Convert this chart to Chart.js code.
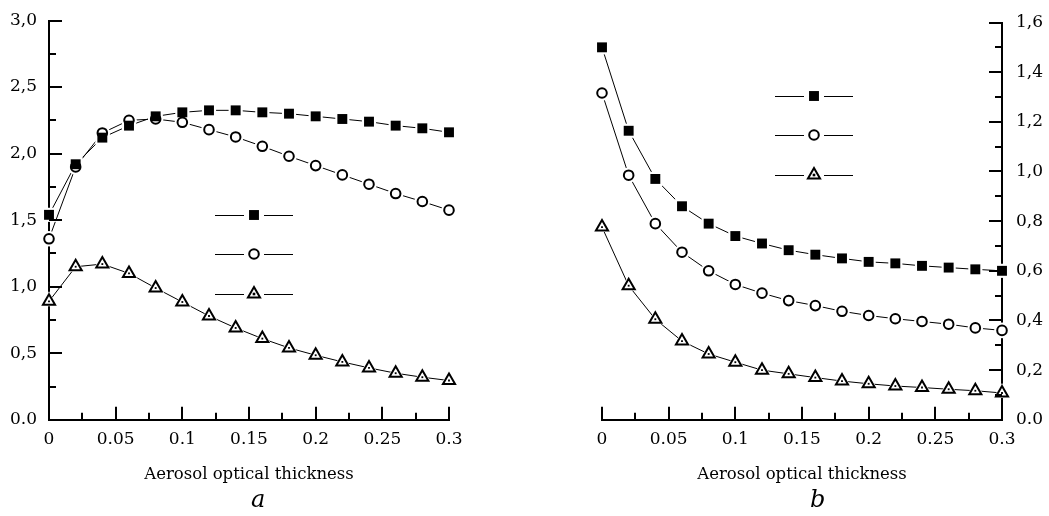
<!DOCTYPE html>
<html>
<head>
<meta charset="utf-8">
<script src="https://cdn.jsdelivr.net/npm/chart.js@4.4.0/dist/chart.umd.min.js"></script>
<style>
  body { margin: 0; background: #fff; width: 1049px; height: 516px; position: relative; overflow: hidden; font-family: 'Liberation Serif', serif; }
  .panel { position: absolute; top: 0; height: 516px; }
  #wrapA { left: 0; width: 525px; }
  #wrapB { left: 525px; width: 524px; }
  .letter { position: absolute; top: 484px; font-style: italic; font-size: 24px; line-height: 30px; font-family: 'DejaVu Serif', serif; }
</style>
</head>
<body>
<div class="panel" id="wrapA"><canvas id="chartA"></canvas></div>
<div class="panel" id="wrapB"><canvas id="chartB"></canvas></div>
<div class="letter" style="left:251px">a</div>
<div class="letter" style="left:810px">b</div>
<script>
// aerosol optical thickness (x)
const aot = [0, 0.02, 0.04, 0.06, 0.08, 0.1, 0.12, 0.14, 0.16, 0.18, 0.2, 0.22, 0.24, 0.26, 0.28, 0.3];

// panel a
const aSquares = [1.54, 1.92, 2.12, 2.21, 2.28, 2.31, 2.325, 2.325, 2.31, 2.30, 2.28, 2.26, 2.24, 2.21, 2.19, 2.16];
const aCircles = [1.36, 1.90, 2.155, 2.25, 2.26, 2.235, 2.18, 2.125, 2.055, 1.98, 1.91, 1.84, 1.77, 1.70, 1.64, 1.575];
const aTriangles = [0.89, 1.15, 1.17, 1.10, 0.99, 0.885, 0.78, 0.69, 0.61, 0.54, 0.485, 0.435, 0.39, 0.35, 0.32, 0.295];

// panel b
const bSquares = [1.50, 1.164, 0.97, 0.86, 0.79, 0.74, 0.71, 0.683, 0.665, 0.65, 0.636, 0.63, 0.62, 0.613, 0.606, 0.60];
const bCircles = [1.316, 0.985, 0.79, 0.675, 0.60, 0.545, 0.51, 0.48, 0.46, 0.437, 0.42, 0.407, 0.396, 0.385, 0.37, 0.36];
const bTriangles = [0.776, 0.54, 0.405, 0.317, 0.265, 0.232, 0.20, 0.185, 0.17, 0.156, 0.145, 0.136, 0.13, 0.123, 0.117, 0.108];

const xTitle = 'Aerosol optical thickness';
const tickFont = { family: "'DejaVu Serif', serif", size: 17 };
const yTickFont = { family: "'DejaVu Serif', serif", size: 17, lineHeight: 1 };
const titleFont = { family: "'DejaVu Serif', serif", size: 16.5 };

const markerStyles = [
  { pointStyle: 'rect', radius: 7, fill: '#000', border: 0 },
  { pointStyle: 'circle', radius: 4.8, fill: '#fff', border: 2 },
  { pointStyle: 'triangle', radius: 7, fill: '#fff', border: 2 }
];

function toPoints(values) {
  return values.map((v, i) => ({ x: aot[i], y: v }));
}

function buildDatasets(seriesList) {
  const sets = [];
  seriesList.forEach((values, i) => {
    const m = markerStyles[i];
    const pts = toPoints(values);
    // connecting line
    sets.push({ data: pts, showLine: true, borderColor: '#000', borderWidth: 1, pointRadius: 0, tension: 0, clip: false, order: 4 });
    // white halo so the line stops short of the marker
    sets.push({ data: pts, showLine: false, pointStyle: m.pointStyle, pointRadius: m.radius + 3,
      pointBackgroundColor: '#fff', pointBorderColor: '#fff', pointBorderWidth: 0, clip: false, order: 3 });
    // marker
    sets.push({ data: pts, showLine: false, pointStyle: m.pointStyle, pointRadius: m.radius,
      pointBackgroundColor: m.fill, pointBorderColor: '#000', pointBorderWidth: m.border, clip: false, order: 2 });
    if (m.pointStyle === 'triangle') {
      sets.push({ data: pts, showLine: false, pointStyle: 'rect', pointRadius: 1.3,
        pointBackgroundColor: '#000', pointBorderWidth: 0, clip: false, order: 1 });
    }
  });
  return sets;
}

// short tick marks pointing into the plot
const inwardTicks = {
  id: 'inwardTicks',
  afterDraw(chart, args, opts) {
    const ctx = chart.ctx;
    const xs = chart.scales.x, ys = chart.scales.y;
    ctx.save();
    ctx.strokeStyle = '#000';
    ctx.lineWidth = 2;
    ctx.beginPath();
    xs.ticks.forEach(t => {
      const px = Math.round(xs.getPixelForValue(t.value));
      const len = t.label ? 13 : 7;
      ctx.moveTo(px, xs.top);
      ctx.lineTo(px, xs.top - len);
    });
    ys.ticks.forEach(t => {
      const py = Math.round(ys.getPixelForValue(t.value));
      const len = t.label ? 13 : 7;
      if (opts.side === 'left') {
        ctx.moveTo(ys.right, py);
        ctx.lineTo(ys.right + len, py);
      } else {
        ctx.moveTo(ys.left, py);
        ctx.lineTo(ys.left - len, py);
      }
    });
    ctx.stroke();
    ctx.restore();
  }
};

function drawMarker(ctx, style, x, y) {
  const r = style.radius;
  ctx.beginPath();
  if (style.pointStyle === 'rect') {
    const s = r * Math.SQRT1_2;
    ctx.rect(x - s, y - s, 2 * s, 2 * s);
  } else if (style.pointStyle === 'circle') {
    ctx.arc(x, y, r, 0, Math.PI * 2);
  } else {
    ctx.moveTo(x, y - r);
    ctx.lineTo(x + r * Math.sin(2 * Math.PI / 3), y - r * Math.cos(2 * Math.PI / 3));
    ctx.lineTo(x + r * Math.sin(4 * Math.PI / 3), y - r * Math.cos(4 * Math.PI / 3));
    ctx.closePath();
  }
  ctx.fillStyle = style.fill;
  ctx.fill();
  if (style.border) {
    ctx.lineWidth = style.border;
    ctx.strokeStyle = '#000';
    ctx.stroke();
  }
  if (style.pointStyle === 'triangle') {
    ctx.fillStyle = '#000';
    ctx.fillRect(x - 1.3, y - 1.3, 2.6, 2.6);
  }
}

// legend with line samples only (no text), as in the figure
const sampleLegend = {
  id: 'sampleLegend',
  afterDraw(chart, args, opts) {
    const ctx = chart.ctx;
    const a = chart.chartArea;
    ctx.save();
    markerStyles.forEach((m, i) => {
      const y = Math.round(a.top + opts.top + i * opts.gap);
      const x1 = a.left + opts.left;
      const xm = x1 + 39;
      const x2 = x1 + 78;
      ctx.beginPath();
      ctx.strokeStyle = '#000';
      ctx.lineWidth = 1;
      ctx.moveTo(x1, y + 0.5);
      ctx.lineTo(xm - 10, y + 0.5);
      ctx.moveTo(xm + 10, y + 0.5);
      ctx.lineTo(x2, y + 0.5);
      ctx.stroke();
      drawMarker(ctx, m, xm, y);
    });
    ctx.restore();
  }
};

function xTickLabel(v) {
  const k = Math.round(v * 1000);
  if (k % 50) return '';
  return k === 0 ? '0' : String(k / 1000);
}

function yTickLabel(v, major) {
  const k = Math.round(v * 100);
  if (k % major) return '';
  if (k === 0) return '0.0';
  return (k / 100).toFixed(1).replace('.', ',');
}

function makeChart(id, seriesList, yCfg, legendPos) {
  return new Chart(document.getElementById(id), {
    type: 'scatter',
    data: { datasets: buildDatasets(seriesList) },
    plugins: [inwardTicks, sampleLegend],
    options: {
      responsive: true,
      maintainAspectRatio: false,
      animation: false,
      layout: { padding: yCfg.padding },
      plugins: {
        legend: { display: false },
        tooltip: { enabled: false },
        inwardTicks: { side: yCfg.position },
        sampleLegend: legendPos
      },
      scales: {
        x: {
          type: 'linear',
          min: 0,
          max: 0.3,
          grid: { display: false, drawTicks: false, tickLength: 0 },
          border: { display: true, color: '#000', width: 2 },
          ticks: { stepSize: 0.025, autoSkip: false, maxRotation: 0, padding: 10, color: '#000', font: tickFont, callback: xTickLabel },
          title: { display: true, text: xTitle, color: '#000', font: titleFont, padding: { top: 5, bottom: 0 } }
        },
        y: {
          type: 'linear',
          position: yCfg.position,
          min: 0,
          max: yCfg.max,
          grid: { display: false, drawTicks: false, tickLength: 0 },
          border: { display: true, color: '#000', width: 2 },
          ticks: { stepSize: yCfg.step, autoSkip: false, padding: yCfg.labelPad, color: '#000', font: yTickFont,
            callback: v => yTickLabel(v, yCfg.major) },
          afterFit: s => { s.width = yCfg.width; }
        }
      }
    }
  });
}

makeChart('chartA', [aSquares, aCircles, aTriangles],
  { position: 'left', max: 3, step: 0.25, major: 50, width: 49, labelPad: 12, padding: { top: 19, right: 76, bottom: 31, left: 0 } },
  { left: 166, top: 194, gap: 39.5 });

makeChart('chartB', [bSquares, bCircles, bTriangles],
  { position: 'right', max: 1.6, step: 0.1, major: 20, width: 47, labelPad: 14, padding: { top: 19, right: 0, bottom: 31, left: 77 } },
  { left: 173, top: 73, gap: 39.5 });
</script>
</body>
</html>
